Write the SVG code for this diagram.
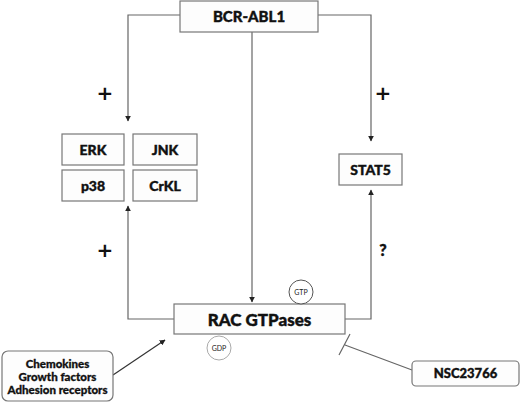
<svg xmlns="http://www.w3.org/2000/svg" width="520" height="402" viewBox="0 0 520 402">
<defs>
<marker id="ah" viewBox="0 0 10 10" refX="9" refY="5" markerWidth="5" markerHeight="5" orient="auto"><path d="M0,0 L10,5 L0,10 z" fill="#222"/></marker>
<style>
.box{fill:#fdfdfd;stroke:#777;stroke-width:1.2}
.rbox{fill:#fdfdfd;stroke:#777;stroke-width:1.2}
.t{font-family:Lato,"Open Sans",sans-serif;font-weight:900;fill:#111;text-anchor:middle;stroke:#111;stroke-width:0.4}
.c{font-family:Lato,"Open Sans",sans-serif;fill:#222;text-anchor:middle;font-size:7px}
.ln{fill:none;stroke:#666;stroke-width:1.2}
.circ{fill:#fff;stroke:#555;stroke-width:1}
.sym{font-family:"DejaVu Sans",sans-serif;font-weight:bold;fill:#111;text-anchor:middle}
</style>
</defs>
<g id="connectors">
<path class="ln" d="M180,15 H128 V121" marker-end="url(#ah)"/>
<path class="ln" d="M318,15 H371 V141" marker-end="url(#ah)"/>
<path class="ln" d="M252,32 V302" marker-end="url(#ah)"/>
<path class="ln" d="M174,319 H128 V206" marker-end="url(#ah)"/>
<path class="ln" d="M345,319 H371 V190" marker-end="url(#ah)"/>
<path class="ln" d="M113,375 L165,340" marker-end="url(#ah)" style="stroke:#333"/>
<path class="ln" d="M412,370 L345,345 M339,355 L350,334"/>
</g>
<g id="bcr-abl1"><rect class="box" x="180" y="1" width="138" height="31"/><text class="t" x="249" y="22" font-size="15">BCR-ABL1</text></g>
<g id="erk"><rect class="box" x="62" y="134" width="62" height="31"/><text class="t" x="93" y="155" font-size="14">ERK</text></g>
<g id="jnk"><rect class="box" x="133" y="134" width="64" height="31"/><text class="t" x="165" y="155" font-size="14">JNK</text></g>
<g id="p38"><rect class="box" x="62" y="170" width="62" height="31"/><text class="t" x="93" y="191" font-size="14">p38</text></g>
<g id="crkl"><rect class="box" x="133" y="170" width="64" height="31"/><text class="t" x="165" y="191" font-size="14">CrKL</text></g>
<g id="stat5"><rect class="box" x="339" y="154" width="63" height="31"/><text class="t" x="370.5" y="175" font-size="14">STAT5</text></g>
<g id="rac"><rect class="box" x="174" y="304" width="171" height="30"/><text class="t" x="259.5" y="325.5" font-size="17">RAC GTPases</text></g>
<g id="gtp"><circle class="circ" cx="301" cy="292" r="12"/><text class="c" x="301" y="294.5">GTP</text></g>
<g id="gdp"><circle class="circ" cx="219" cy="348" r="12" style="stroke:#aaa"/><text class="c" x="219" y="350.5">GDP</text></g>
<g id="stimuli"><rect class="rbox" x="2" y="351" width="111" height="50" rx="6"/><text class="t" x="57.5" y="368" font-size="11.5" style="stroke-width:0.3">Chemokines</text><text class="t" x="57.5" y="381" font-size="11.5" style="stroke-width:0.3">Growth factors</text><text class="t" x="57.5" y="394" font-size="11.5" style="stroke-width:0.3">Adhesion receptors</text></g>
<g id="nsc"><rect class="rbox" x="412" y="361" width="107" height="25" rx="4"/><text class="t" x="465.5" y="378" font-size="13">NSC23766</text></g>
<g id="labels">
<text class="sym" x="105" y="100" font-size="20">+</text>
<text class="sym" x="383" y="100" font-size="20">+</text>
<text class="sym" x="105" y="257" font-size="20">+</text>
<text class="t" x="383" y="256" font-size="16">?</text>
</g>
</svg>
